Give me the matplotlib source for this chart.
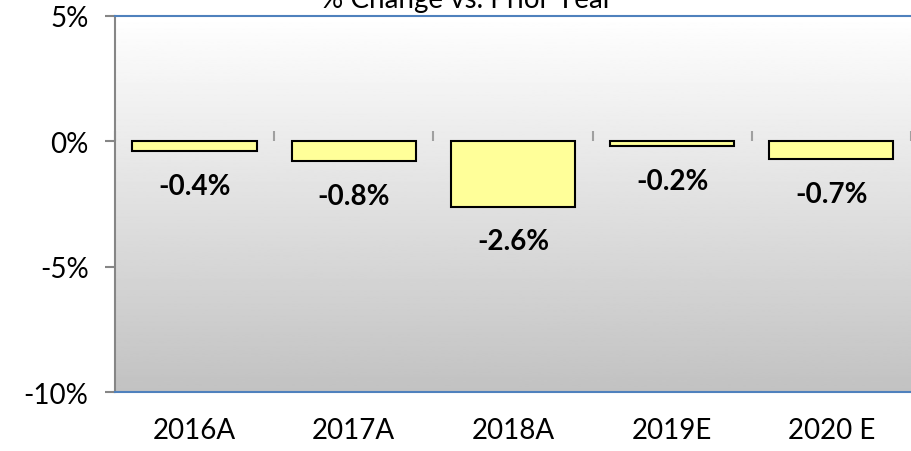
import numpy as np
import matplotlib
matplotlib.use('Agg')
import matplotlib.pyplot as plt
from matplotlib.ticker import FuncFormatter

plt.rcParams['font.family'] = ['Lato', 'DejaVu Sans']

years = ['2016A', '2017A', '2018A', '2019E', '2020 E']
change = [-0.4, -0.8, -2.6, -0.2, -0.7]
y_ticks = [5, 0, -5, -10]
title = '% Change vs. Prior Year'

fig = plt.figure(figsize=(9.11, 4.52), dpi=100)
ax = fig.add_axes([0.1262, 0.1305, 0.8738, 0.8319])
ymin, ymax = -10, 5
x = np.arange(len(years))
ax.set_xlim(-0.5, len(years) - 0.5)
ax.set_ylim(ymin, ymax)

# gradient background white -> grey
grad = np.linspace(1.0, 0.76, 256).reshape(-1, 1)
ax.imshow(grad, cmap='gray', vmin=0, vmax=1, aspect='auto',
          extent=[0, 1, 0, 1], transform=ax.transAxes, zorder=0)

ax.bar(x, change, width=0.78, color='#FFFF99', edgecolor='black', linewidth=1.5, zorder=3)
for xi, v in zip(x, change):
    ax.annotate(f'{v:.1f}%', (xi, v), xytext=(0, -25), textcoords='offset points',
                ha='center', va='center', fontsize=20, fontweight='bold', zorder=4)

# spines
for s in ['top', 'bottom']:
    ax.spines[s].set_color('#4F81BD')
    ax.spines[s].set_linewidth(1.5)
ax.spines['right'].set_visible(False)
ax.spines['left'].set_color('#868686')
ax.spines['left'].set_linewidth(1.5)

ax.set_yticks(y_ticks)
ax.yaxis.set_major_formatter(FuncFormatter(lambda v, p: f'{v:.0f}%'))
ax.tick_params(axis='y', length=7, width=1.5, color='#868686', labelsize=20, pad=12)
ax.set_xticks(x)
ax.set_xticklabels(years)
ax.tick_params(axis='x', length=0, labelsize=20, pad=18)

# zero axis line with category boundary ticks
zero_pos = (0 - ymin) / (ymax - ymin)
sec = ax.secondary_xaxis(zero_pos)
sec.set_xticks(np.arange(len(years) + 1) - 0.5)
sec.set_xticklabels([])
sec.tick_params(axis='x', length=7, width=1.5, color='#A0A0A0', direction='out')
sec.spines['bottom'].set_color('#868686')
sec.spines['bottom'].set_linewidth(1.5)
for s in ['top', 'left', 'right']:
    sec.spines[s].set_visible(False)

fig.text(467 / 911, 1.0, title, ha='center', va='center', fontsize=20)

fig.savefig('out.png', dpi=100)
